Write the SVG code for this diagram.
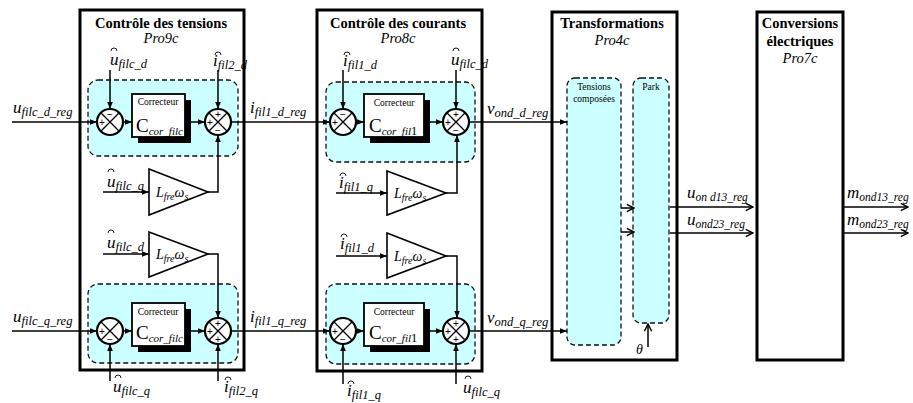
<svg xmlns="http://www.w3.org/2000/svg" xmlns:xlink="http://www.w3.org/1999/xlink" width="913" height="403" viewBox="0 0 913 403" font-family="'Liberation Serif', 'Times New Roman', Times, 'DejaVu Serif', serif">
<style>
text{font-family:'Liberation Serif','Times New Roman',Times,'DejaVu Serif',serif;fill:#000}
.blk{fill:#fff;stroke:#000;stroke-width:3}
.ttl{font-weight:bold;font-size:14.5px;text-anchor:middle}
.pro{font-style:italic;font-size:14.5px;text-anchor:middle}
.dash{fill:#ccffff;stroke:#111;stroke-width:1.3;stroke-dasharray:5,3}
.ln{fill:none;stroke:#000;stroke-width:1.5}
.arr{marker-end:url(#a)}
.opn{marker-end:url(#o)}
.sum{fill:#fff;stroke:#000;stroke-width:2.2}
.x{stroke:#000;stroke-width:1.3}
.sg{font-family:'Liberation Sans',Arial,sans-serif;font-size:10px;text-anchor:middle}
.sh{fill:#000}
.box{fill:#fff;stroke:#000;stroke-width:1.8}
.cor{font-size:9.5px;text-anchor:middle}
.C{font-size:19px}
.cs{font-size:11px;font-style:italic}
.tri{fill:#fff;stroke:#000;stroke-width:1.6}
.g{font-size:14px;font-style:italic}
.g9{font-size:10px}
.v{font-size:17px;font-style:italic}
.vs{font-size:12.5px}
.vr{font-size:11.5px}
.hat{fill:none;stroke:#000;stroke-width:0.9}
.small{font-size:9.5px;text-anchor:middle}
</style>
<defs>
<marker id="a" viewBox="0 0 10 10" refX="10" refY="5" markerWidth="7" markerHeight="7" markerUnits="userSpaceOnUse" orient="auto"><path d="M0,1 L10,5 L0,9 z" fill="#000"/></marker>
<marker id="o" viewBox="0 0 10 10" refX="9" refY="5" markerWidth="9" markerHeight="9" markerUnits="userSpaceOnUse" orient="auto"><path d="M1,1 L9,5 L1,9" fill="none" stroke="#000" stroke-width="1.6"/></marker>
<g id="sumc"><circle r="13" class="sum"/><path d="M-9.2,-9.2 L9.2,9.2 M-9.2,9.2 L9.2,-9.2" class="x"/></g>
<path id="hatp" d="M-3,0 A3,3 0 0 1 3,0"/>
</defs>

<!-- Blocks -->
<g id="blk-tensions">
<rect x="80" y="10" width="164" height="360" class="blk"/>
<text x="161" y="28" class="ttl">Contrôle des tensions</text>
<text x="161" y="43" class="pro">Pro9c</text>
</g>
<g id="blk-courants">
<rect x="317" y="10" width="165" height="361" class="blk"/>
<text x="398" y="28" class="ttl">Contrôle des courants</text>
<text x="398" y="43" class="pro">Pro8c</text>
</g>
<g id="blk-transfo">
<rect x="552" y="12" width="125" height="348" class="blk"/>
<text x="612" y="28" class="ttl">Transformations</text>
<text x="612" y="45" class="pro">Pro4c</text>
</g>
<g id="blk-conv">
<rect x="757" y="12" width="86" height="348" class="blk"/>
<text x="800" y="28" class="ttl">Conversions</text>
<text x="800" y="46" class="ttl">électriques</text>
<text x="800" y="63" class="pro">Pro7c</text>
</g>

<!-- Dashed sub-regions -->
<g id="reg-t1"><rect x="88" y="80" width="150" height="76" rx="10" class="dash"/></g>
<g id="reg-t2"><rect x="88" y="284" width="150" height="79" rx="10" class="dash"/></g>
<g id="reg-c1"><rect x="326" y="82" width="149" height="80" rx="10" class="dash"/></g>
<g id="reg-c2"><rect x="326" y="284" width="149" height="80" rx="10" class="dash"/></g>
<g id="reg-tc"><rect x="567" y="78" width="54" height="267" rx="8" class="dash"/><text x="594" y="90" class="small">Tensions</text><text x="594" y="102" class="small">composées</text></g>
<g id="reg-park"><rect x="633" y="78" width="36" height="245" rx="8" class="dash"/><text x="651" y="90" class="small">Park</text></g>

<!-- Connectors -->
<g id="connectors">
<path d="M12,122 H97" class="ln arr"/>
<path d="M110,70 V109" class="ln arr"/>
<path d="M123,122 H132" class="ln arr"/>
<path d="M191,122 H205" class="ln arr"/>
<path d="M218,70 V109" class="ln arr"/>
<path d="M231,122 H330" class="ln arr"/>
<path d="M103,192 H149" class="ln arr"/>
<path d="M208,192 H218 V135" class="ln arr"/>
<path d="M103,254 H149" class="ln arr"/>
<path d="M208,254 H218 V318" class="ln arr"/>
<path d="M12,331 H97" class="ln arr"/>
<path d="M123,331 H132" class="ln arr"/>
<path d="M191,331 H205" class="ln arr"/>
<path d="M110,381 V344" class="ln arr"/>
<path d="M218,381 V344" class="ln arr"/>
<path d="M231,331 H330" class="ln arr"/>
<path d="M343,70 V109" class="ln arr"/>
<path d="M356,122 H364" class="ln arr"/>
<path d="M430,122 H443" class="ln arr"/>
<path d="M456,70 V109" class="ln arr"/>
<path d="M469,122 H567" class="ln arr"/>
<path d="M336,193 H387" class="ln arr"/>
<path d="M446,193 H457 V135" class="ln arr"/>
<path d="M336,256 H387" class="ln arr"/>
<path d="M446,256 H457 V318" class="ln arr"/>
<path d="M356,331 H364" class="ln arr"/>
<path d="M430,331 H443" class="ln arr"/>
<path d="M343,384 V344" class="ln arr"/>
<path d="M456,384 V344" class="ln arr"/>
<path d="M469,331 H567" class="ln arr"/>
<path d="M621,208 H634" class="ln opn"/>
<path d="M621,232 H634" class="ln opn"/>
<path d="M670,207 H753" class="ln opn"/>
<path d="M670,233 H753" class="ln opn"/>
<path d="M648,347 V324" class="ln opn"/>
<path d="M843,207 H908" class="ln opn"/>
<path d="M843,233 H908" class="ln opn"/>
</g>

<!-- Summers -->
<g id="sum1" transform="translate(110,122)"><use xlink:href="#sumc"/><text y="-4" class="sg">−</text><text x="-8" y="4" class="sg">+</text></g>
<g id="sum2" transform="translate(218,122)"><use xlink:href="#sumc"/><text y="-4" class="sg">+</text><text x="-8" y="4" class="sg">+</text><text y="12" class="sg">−</text></g>
<g id="sum3" transform="translate(110,331)"><use xlink:href="#sumc"/><text x="-8" y="4" class="sg">+</text><text y="12" class="sg">−</text></g>
<g id="sum4" transform="translate(218,331)"><use xlink:href="#sumc"/><text y="-4" class="sg">+</text><text x="-8" y="4" class="sg">+</text><text y="12" class="sg">+</text></g>
<g id="sum5" transform="translate(343,122)"><use xlink:href="#sumc"/><text y="-4" class="sg">−</text><text x="-8" y="4" class="sg">+</text></g>
<g id="sum6" transform="translate(456,122)"><use xlink:href="#sumc"/><text y="-4" class="sg">+</text><text x="-8" y="4" class="sg">+</text><text y="12" class="sg">−</text></g>
<g id="sum7" transform="translate(343,331)"><use xlink:href="#sumc"/><text x="-8" y="4" class="sg">+</text><text y="12" class="sg">−</text></g>
<g id="sum8" transform="translate(456,331)"><use xlink:href="#sumc"/><text y="-4" class="sg">+</text><text x="-8" y="4" class="sg">+</text><text y="12" class="sg">+</text></g>

<!-- Correcteurs -->
<g id="cor1"><rect x="138" y="100" width="53" height="43" class="sh"/><rect x="132" y="94" width="53" height="43" class="box"/><text x="158" y="105" class="cor">Correcteur</text><text x="136" y="132" class="C">C<tspan class="cs" dy="3">cor_filc</tspan></text></g>
<g id="cor2"><rect x="138" y="309" width="53" height="43" class="sh"/><rect x="132" y="303" width="53" height="43" class="box"/><text x="158" y="315" class="cor">Correcteur</text><text x="136" y="339" class="C">C<tspan class="cs" dy="3">cor_filc</tspan></text></g>
<g id="cor3"><rect x="370" y="100" width="60" height="43" class="sh"/><rect x="364" y="94" width="60" height="43" class="box"/><text x="394" y="106" class="cor">Correcteur</text><text x="369" y="132" class="C">C<tspan class="cs" dy="3">cor_fil</tspan><tspan class="vs">1</tspan></text></g>
<g id="cor4"><rect x="370" y="309" width="60" height="43" class="sh"/><rect x="364" y="303" width="60" height="43" class="box"/><text x="394" y="315" class="cor">Correcteur</text><text x="369" y="339" class="C">C<tspan class="cs" dy="3">cor_fil</tspan><tspan class="vs">1</tspan></text></g>

<!-- Gains -->
<g id="gain1"><path d="M149,169 L208,192 L149,215 Z" class="tri"/><text x="156" y="197" class="g">L<tspan class="g9" dy="3">fre</tspan><tspan dy="-3">ω</tspan><tspan class="g9" dy="3">s</tspan></text></g>
<g id="gain2"><path d="M149,232 L208,254 L149,277 Z" class="tri"/><text x="156" y="259" class="g">L<tspan class="g9" dy="3">fre</tspan><tspan dy="-3">ω</tspan><tspan class="g9" dy="3">s</tspan></text></g>
<g id="gain3"><path d="M387,171 L446,193 L387,215 Z" class="tri"/><text x="394" y="198" class="g">L<tspan class="g9" dy="3">fre</tspan><tspan dy="-3">ω</tspan><tspan class="g9" dy="3">s</tspan></text></g>
<g id="gain4"><path d="M387,233 L446,256 L387,278 Z" class="tri"/><text x="394" y="261" class="g">L<tspan class="g9" dy="3">fre</tspan><tspan dy="-3">ω</tspan><tspan class="g9" dy="3">s</tspan></text></g>

<!-- Signal labels -->
<g id="labels">
<text x="13" y="113" class="v">u<tspan class="vs" dy="3">filc_d_reg</tspan></text>
<text x="13" y="322" class="v">u<tspan class="vs" dy="3">filc_q_reg</tspan></text>
<text x="250" y="113" class="v">i<tspan class="vs" dy="3">fil1_d_reg</tspan></text>
<text x="250" y="322" class="v">i<tspan class="vs" dy="3">fil1_q_reg</tspan></text>
<text x="487" y="114" class="v">v<tspan class="vs" dy="3">ond_d_reg</tspan></text>
<text x="487" y="323" class="v">v<tspan class="vs" dy="3">ond_q_reg</tspan></text>
<text x="110" y="65" class="v">u<tspan class="vs" dy="3">filc_d</tspan></text>
<use xlink:href="#hatp" x="114" y="51" class="hat"/>
<text x="213" y="66" class="v">i<tspan class="vs" dy="3">fil2_d</tspan></text>
<use xlink:href="#hatp" x="218" y="55" class="hat"/>
<text x="107" y="187" class="v">u<tspan class="vs" dy="3">filc_q</tspan></text>
<use xlink:href="#hatp" x="111" y="172" class="hat"/>
<text x="107" y="248" class="v">u<tspan class="vs" dy="3">filc_d</tspan></text>
<use xlink:href="#hatp" x="111" y="233" class="hat"/>
<text x="113" y="392" class="v">u<tspan class="vs" dy="3">filc_q</tspan></text>
<use xlink:href="#hatp" x="118" y="378" class="hat"/>
<text x="224" y="392" class="v">i<tspan class="vs" dy="3">fil2_q</tspan></text>
<use xlink:href="#hatp" x="228" y="380" class="hat"/>
<text x="343" y="66" class="v">i<tspan class="vs" dy="3">fil1_d</tspan></text>
<use xlink:href="#hatp" x="347" y="55" class="hat"/>
<text x="451" y="65" class="v">u<tspan class="vs" dy="3">filc_d</tspan></text>
<use xlink:href="#hatp" x="456" y="51" class="hat"/>
<text x="339" y="188" class="v">i<tspan class="vs" dy="3">fil1_q</tspan></text>
<use xlink:href="#hatp" x="343" y="176" class="hat"/>
<text x="340" y="249" class="v">i<tspan class="vs" dy="3">fil1_d</tspan></text>
<use xlink:href="#hatp" x="344" y="237" class="hat"/>
<text x="347" y="396" class="v">i<tspan class="vs" dy="3">fil1_q</tspan></text>
<use xlink:href="#hatp" x="351" y="384" class="hat"/>
<text x="463" y="393" class="v">u<tspan class="vs" dy="3">filc_q</tspan></text>
<use xlink:href="#hatp" x="468" y="379" class="hat"/>
<text x="687" y="198" class="v">u<tspan class="vr" dy="3">on d13_reg</tspan></text>
<text x="687" y="225" class="v">u<tspan class="vr" dy="3">ond23_reg</tspan></text>
<text x="847" y="198" class="v">m<tspan class="vr" dy="3">ond13_reg</tspan></text>
<text x="847" y="225" class="v">m<tspan class="vr" dy="3">ond23_reg</tspan></text>
<text x="636" y="354" class="g">θ</text>
</g>
</svg>
